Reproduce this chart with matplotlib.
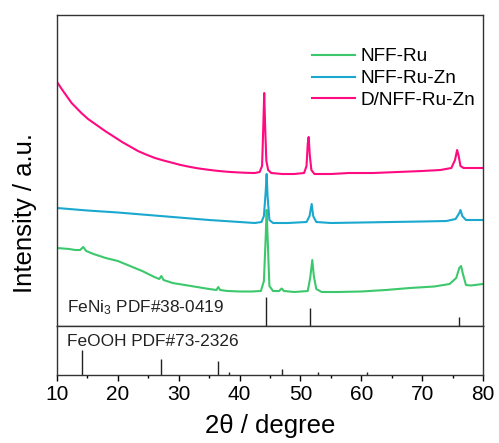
import matplotlib
matplotlib.use("Agg")
import matplotlib.pyplot as plt
from matplotlib.ticker import MultipleLocator

plt.rcParams['font.family'] = ['Liberation Sans', 'DejaVu Sans']
plt.rcParams['mathtext.default'] = 'regular'

# NFF-Ru (green)
ru_x = [10, 11, 12, 13, 13.8, 14.3, 14.8, 16, 18, 20, 22, 24, 26, 26.8, 27.15, 27.5, 29, 31, 33, 35,
        36.2, 36.5, 36.8, 38, 40, 42, 43.5, 44.0, 44.3, 44.45, 44.6, 44.9, 45.5, 46.5, 46.9, 47.3, 49,
        51.2, 51.6, 51.95, 52.2, 52.6, 53.5, 56, 60, 64, 68, 72, 74.5, 75.6, 76.1, 76.4, 76.7, 77.2, 78, 80]
ru_y = [78, 77.5, 77, 76, 76, 79, 75, 72, 68, 65, 60, 55, 49, 47, 50, 46, 43, 41, 39, 37,
        36, 39, 36, 35, 34.5, 34.5, 35, 45, 90, 116, 90, 40, 35, 35, 37.5, 35, 34,
        35, 48, 66, 50, 37, 34, 34, 34.5, 36, 38, 39.5, 42, 48, 58, 60, 52, 41, 40.5, 42]

# NFF-Ru-Zn (blue)
ruzn_x = [10, 12, 15, 20, 25, 30, 35, 40, 42.5, 43.6, 44.0, 44.3, 44.45, 44.6, 44.9, 45.5, 48,
          51.0, 51.5, 51.85, 52.1, 52.6, 55, 60, 65, 70, 74, 75.5, 76.1, 76.3, 76.6, 77.2, 80]
ruzn_y = [118, 117, 115.5, 113.5, 111, 108.5, 106, 104, 103, 104, 110, 135, 152, 130, 106, 103, 103,
          104, 110, 122, 110, 104, 103, 103.5, 104, 104.5, 105, 107, 113, 116, 110, 106, 106]

# D/NFF-Ru-Zn (pink)
druzn_x = [10.0, 10.5, 11.0, 11.7, 12.4, 13.2, 14.0, 15.1, 16.5, 17.9, 19.3, 20.7, 22.0, 23.3, 24.7,
           26.1, 27.5, 28.9, 30.2, 31.5, 33.0, 34.3, 35.7, 37.1, 38.5, 39.7, 41.0, 42.5, 43.3, 43.7,
           43.9, 44.05, 44.2, 44.4, 44.7, 45.2, 47, 49, 50.6, 51.0, 51.2, 51.35, 51.55, 51.8, 52.3,
           55, 58, 62, 66, 70, 73, 74.8, 75.4, 75.75, 76.0, 76.3, 76.8, 78, 80]
druzn_y = [244, 239.5, 235, 229, 223, 218, 213, 207, 201, 195, 189.5, 184, 179.5, 175, 171.3,
           168, 165.5, 163.3, 161.2, 159.5, 157.8, 156.7, 155.6, 154.7, 154, 153.6, 153.2, 153, 154, 160,
           200, 233, 200, 165, 156, 153, 152, 152, 153, 160, 182, 189, 170, 156, 152,
           152, 153, 153, 154, 155, 156, 158, 166, 176, 170, 160, 158, 158, 158]

# reference patterns
feni3_pos = [44.3, 51.6, 76.05]
feni3_int = [28.7, 17.7, 9.3]
feooh_pos = [14.16, 27.1, 36.4, 38.26, 46.9, 52.9, 60.9]
feooh_int = [24.5, 15.8, 13.3, 2.3, 6, 3, 3]

fig = plt.figure(figsize=(4.99, 4.43), dpi=100)
ax = fig.add_axes([57/499, 1-326/443, 426/499, 311/443])
ax2 = fig.add_axes([57/499, 1-374.5/443, 426/499, 48.5/443], sharex=ax)

ax.plot(ru_x, ru_y, color='#3cc86c', lw=1.5, label='NFF-Ru')
ax.plot(ruzn_x, ruzn_y, color='#1aa8cf', lw=1.5, label='NFF-Ru-Zn')
ax.plot(druzn_x, druzn_y, color='#ff0a80', lw=1.5, label='D/NFF-Ru-Zn')
ax.vlines(feni3_pos, 0, feni3_int, color='#222222', lw=1)
ax.text(11.64, 13.3, 'FeNi$_3$ PDF#38-0419', fontsize=12.4, va='baseline', color='#222222')

ax.set_xlim(10, 80)
ax.set_ylim(0, 311)
ax.tick_params(left=False, bottom=False, labelleft=False, labelbottom=False)
ax.legend(loc='upper left', bbox_to_anchor=(0.599, 0.894), frameon=False, fontsize=13.7,
          handlelength=2.25, handletextpad=0.3, labelspacing=0.24, borderpad=0, borderaxespad=0)

ax2.vlines(feooh_pos, 0, feooh_int, color='#222222', lw=1)
ax2.text(11.64, 28.5, 'FeOOH PDF#73-2326', fontsize=12.4, va='baseline', color='#222222')
ax2.set_ylim(0, 48.5)
ax2.xaxis.set_major_locator(MultipleLocator(10))
ax2.xaxis.set_minor_locator(MultipleLocator(5))
ax2.tick_params(left=False, labelleft=False)
ax2.tick_params(axis='x', which='major', direction='out', length=4, width=1, labelsize=15, pad=3.5)
ax2.tick_params(axis='x', which='minor', direction='out', length=2, width=1)
ax2.set_xlabel('2θ / degree', fontsize=18.5, labelpad=7)

for a in (ax, ax2):
    for s in a.spines.values():
        s.set_color('#333333')
        s.set_linewidth(1)

fig.text(25/499, 1-213/443, 'Intensity / a.u.', rotation=90, fontsize=18.5, ha='center', va='center')

fig.savefig('out.png', dpi=100)
